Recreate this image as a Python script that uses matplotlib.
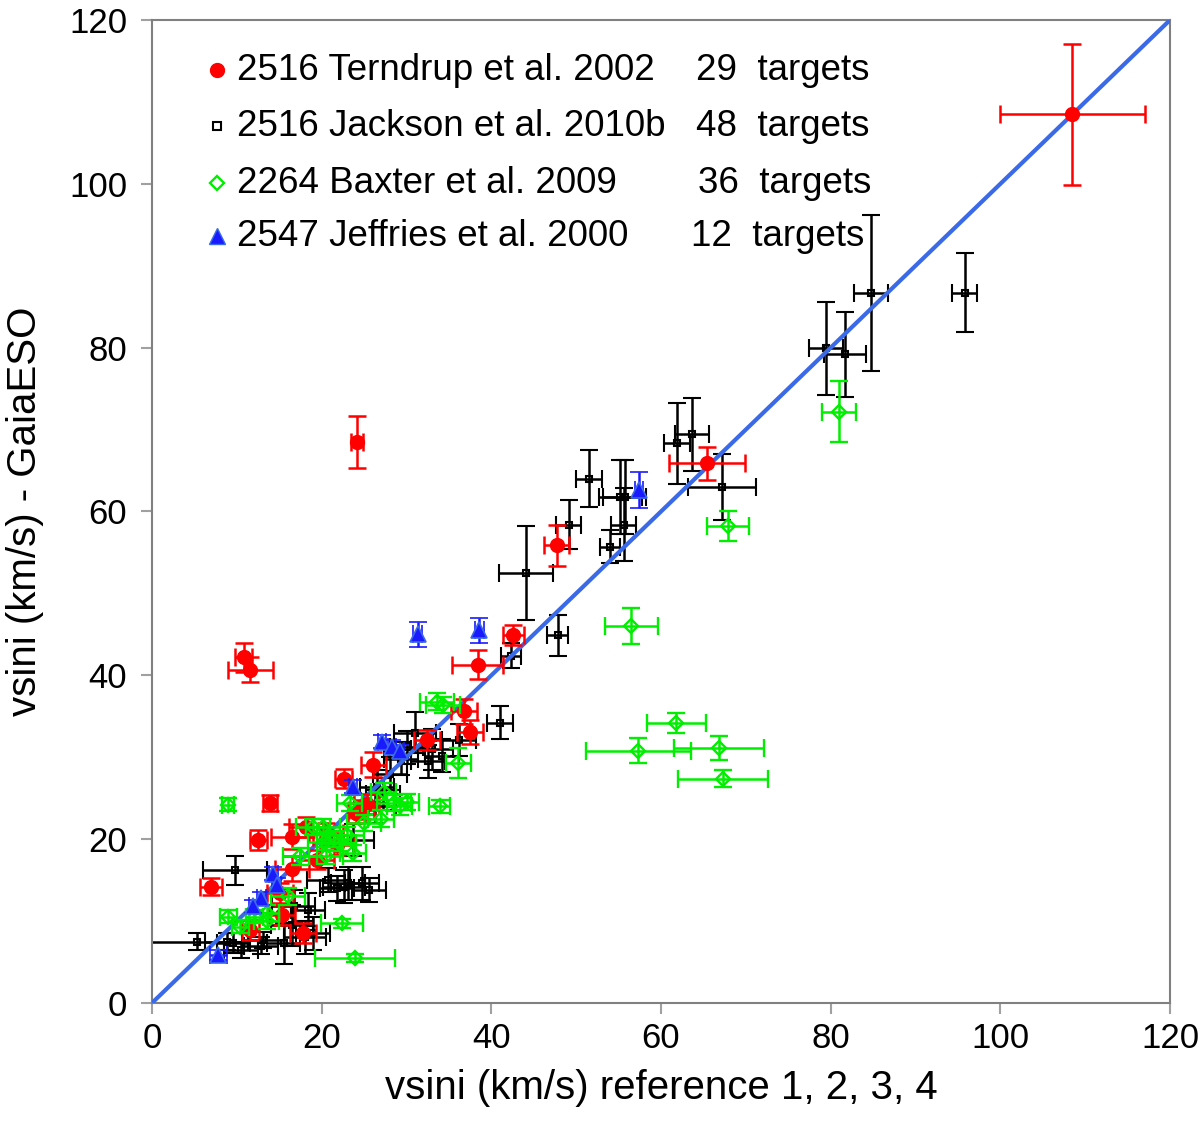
import matplotlib
matplotlib.use("Agg")
import matplotlib.pyplot as plt

plt.rcParams["font.family"] = ["Liberation Sans", "DejaVu Sans"]

# 2516 Terndrup et al. 2002 (29 targets)
terndrup_x = [108.5, 65.4, 24.2, 47.7, 42.6, 38.4, 36.8, 37.5, 32.4, 10.8, 11.6, 26.1, 22.6, 13.9, 12.5,
              16.5, 18.2, 24.7, 24.1, 19.4, 21.8, 7.0, 16.5, 15.1, 15.3, 11.6, 17.8, 20.5, 25.3]
terndrup_y = [108.5, 65.9, 68.5, 55.9, 44.9, 41.3, 35.6, 33.1, 32.1, 42.2, 40.7, 29.1, 27.4, 24.4, 19.9,
              20.3, 21.5, 23.6, 23.2, 17.5, 19.3, 14.2, 16.4, 13.4, 10.7, 8.9, 8.5, 20.8, 24.3]
terndrup_xerr = [8.5, 4.5, 0.7, 1.5, 1.2, 3.0, 1.5, 1.5, 1.5, 1.0, 2.7, 1.5, 1.0, 0.8, 1.0,
                 2.5, 2.0, 1.5, 1.0, 2.0, 2.0, 1.3, 2.0, 1.5, 1.5, 1.0, 1.5, 2.0, 1.5]
terndrup_yerr = [8.6, 2.0, 3.2, 2.5, 1.2, 1.8, 1.5, 1.5, 1.2, 1.8, 1.5, 1.5, 1.2, 1.0, 1.2,
                 1.5, 1.2, 1.2, 1.2, 1.2, 1.2, 1.0, 1.5, 1.2, 1.2, 1.2, 1.2, 1.2, 1.2]

# 2516 Jackson et al. 2010b (48 targets)
jackson_x = [84.8, 95.8, 79.4, 81.7, 67.2, 63.6, 61.9, 51.5, 49.1, 55.2, 55.7, 55.6, 54.0, 44.1, 47.8, 42.3,
             41.0, 36.2, 31.0, 26.5, 26.3, 23.7, 24.7, 23.1, 22.6, 20.8, 9.8, 16.7, 18.4, 5.3, 8.8, 9.6,
             13.1, 15.5, 16.5, 19.0, 28.0, 29.3, 33.0, 34.2, 32.5, 30.0, 27.2, 21.8, 25.6, 18.0, 12.8, 10.5]
jackson_y = [86.7, 86.7, 79.9, 79.2, 63.0, 69.4, 68.3, 64.0, 58.4, 61.8, 61.8, 58.4, 55.7, 52.5, 44.9, 42.4,
             34.2, 32.1, 33.0, 26.4, 24.0, 19.9, 14.6, 14.6, 14.2, 15.0, 16.2, 11.8, 11.4, 7.5, 7.5, 7.3,
             7.7, 7.3, 9.5, 8.5, 28.0, 29.8, 31.0, 30.2, 29.5, 31.2, 25.5, 14.0, 13.8, 8.0, 7.0, 6.5]
jackson_xerr = [2.0, 1.5, 2.0, 2.5, 4.0, 2.0, 1.5, 1.5, 1.5, 2.5, 2.5, 1.5, 1.2, 3.2, 1.2, 1.2,
                1.5, 2.0, 2.5, 2.0, 2.5, 2.5, 2.0, 2.0, 2.5, 2.5, 3.8, 2.5, 2.0, 6.0, 2.5, 2.0,
                2.5, 2.0, 2.5, 2.0, 2.0, 2.0, 2.5, 2.0, 2.0, 2.0, 2.0, 2.0, 2.0, 2.5, 2.0, 2.0]
jackson_yerr = [9.5, 4.8, 5.7, 5.2, 4.0, 4.5, 5.0, 3.5, 3.0, 4.5, 4.5, 4.5, 2.0, 5.7, 2.5, 1.5,
                2.0, 2.0, 2.5, 2.0, 2.0, 2.0, 2.0, 2.0, 2.0, 1.5, 1.8, 2.0, 2.0, 1.0, 1.0, 1.2,
                1.0, 2.5, 2.5, 2.0, 2.0, 2.0, 2.5, 2.0, 2.0, 2.0, 2.0, 1.5, 1.5, 2.0, 1.0, 1.0]

# 2264 Baxter et al. 2009 (36 targets)
baxter_x = [81.0, 67.9, 56.5, 61.8, 57.3, 66.8, 67.3, 23.9, 22.4, 9.0, 33.9, 36.1, 33.6, 34.3, 29.2, 10.4,
            12.1, 17.4, 20.2, 20.4, 22.0, 23.7, 25.0, 23.3, 27.3, 28.5, 19.0, 20.5, 13.5, 16.0, 21.5, 23.0,
            9.0, 13.5, 30.0, 27.0]
baxter_y = [72.2, 58.2, 46.0, 34.2, 30.8, 31.1, 27.4, 5.5, 9.7, 24.2, 24.0, 29.3, 36.8, 36.4, 24.0, 9.3,
            10.5, 17.9, 21.5, 19.7, 19.5, 18.3, 22.0, 24.4, 25.8, 24.4, 21.5, 18.0, 11.0, 13.0, 20.0, 20.5,
            10.5, 10.0, 24.5, 22.5]
baxter_xerr = [2.0, 2.5, 3.1, 3.5, 6.2, 5.3, 5.3, 4.7, 2.5, 0.7, 1.2, 1.5, 2.0, 2.0, 1.5, 1.0,
               1.0, 2.0, 2.0, 2.0, 2.0, 1.5, 2.0, 1.5, 1.5, 2.0, 2.0, 2.0, 1.5, 2.0, 2.0, 2.0,
               1.0, 1.5, 1.5, 1.5]
baxter_yerr = [3.7, 1.8, 2.2, 1.2, 1.5, 1.5, 1.0, 0.5, 0.6, 0.8, 0.8, 1.8, 1.0, 1.0, 1.0, 0.8,
               0.8, 1.0, 1.0, 1.0, 1.0, 1.0, 1.0, 1.0, 1.0, 1.0, 1.0, 1.0, 1.0, 1.0, 1.0, 1.0,
               0.8, 1.0, 1.0, 1.0]

# 2547 Jeffries et al. 2000 (12 targets)
jeffries_x = [57.4, 38.6, 31.3, 27.1, 28.3, 29.2, 23.7, 14.3, 14.7, 12.9, 11.9, 7.8]
jeffries_y = [62.6, 45.5, 45.0, 31.9, 31.3, 30.7, 26.4, 15.8, 14.4, 12.8, 11.8, 5.9]
jeffries_xerr = [0.5, 0.5, 0.5, 0.5, 0.5, 0.5, 0.5, 0.5, 0.5, 0.5, 0.5, 1.0]
jeffries_yerr = [2.2, 1.5, 1.5, 0.8, 0.8, 0.8, 0.8, 0.8, 0.8, 0.8, 0.8, 0.6]

legend_labels = ["2516 Terndrup et al. 2002", "2516 Jackson et al. 2010b",
                 "2264 Baxter et al. 2009", "2547 Jeffries et al. 2000"]
legend_counts = ["29", "48", "36", "12"]

RED = "#ff0000"
GREEN = "#00ee00"
BLUE = "#1a1aff"
LINE_BLUE = "#3a6ae8"

fig = plt.figure(figsize=(12, 11.44), dpi=100)
ax = fig.add_axes([0.1267, 0.1233, 0.8483, 0.8592])

eb = dict(linestyle="none", elinewidth=1.8, capsize=6.5, capthick=1.8)

ax.errorbar(jackson_x, jackson_y, xerr=jackson_xerr, yerr=jackson_yerr, marker="s", ms=5,
            mfc="none", mec="black", mew=1.5, ecolor="black", zorder=2, **eb)
ax.plot([0, 120], [0, 120], color=LINE_BLUE, lw=3, zorder=3, solid_capstyle="butt")
ax.errorbar(terndrup_x, terndrup_y, xerr=terndrup_xerr, yerr=terndrup_yerr, marker="o", ms=10,
            mfc=RED, mec=RED, ecolor=RED, zorder=4, **eb)
ax.errorbar(baxter_x, baxter_y, xerr=baxter_xerr, yerr=baxter_yerr, marker="D", ms=7,
            mfc="none", mec=GREEN, mew=1.7, ecolor=GREEN, zorder=5, **eb)
ax.errorbar(jeffries_x, jeffries_y, xerr=jeffries_xerr, yerr=jeffries_yerr, marker="^", ms=11,
            mfc=BLUE, mec=LINE_BLUE, mew=1.2, ecolor=BLUE, zorder=6, **eb)

ax.set_xlim(0, 120)
ax.set_ylim(0, 120)
ax.set_xticks(range(0, 121, 20))
ax.set_yticks(range(0, 121, 20))
ax.tick_params(direction="out", length=8, width=1.5, color="#a0a0a0", labelsize=25)
ax.tick_params(axis="y", pad=10)
ax.tick_params(axis="x", pad=6)
for sp in ax.spines.values():
    sp.set_color("#808080")
    sp.set_linewidth(1.5)

ax.set_xlabel("vsini (km/s) reference 1, 2, 3, 4", fontsize=29, labelpad=10)
ax.set_ylabel("vsini (km/s) - GaiaESO", fontsize=29, labelpad=18)

# legend drawn by hand so that the target counts line up in a column
styles = [dict(marker="o", ms=10, mfc=RED, mec=RED),
          dict(marker="s", ms=6, mfc="none", mec="black", mew=1.5),
          dict(marker="D", ms=7, mfc="none", mec=GREEN, mew=1.7),
          dict(marker="^", ms=11, mfc=BLUE, mec=LINE_BLUE, mew=1)]
rows = [0.949, 0.892, 0.834, 0.780]
count_x = [0.534, 0.534, 0.536, 0.5295]
for st, lab, cnt, ry, cx in zip(styles, legend_labels, legend_counts, rows, count_x):
    ax.plot([0.064], [ry], transform=ax.transAxes, linestyle="none", clip_on=False, zorder=7, **st)
    ax.text(0.083, ry, lab, transform=ax.transAxes, fontsize=26.5, va="center", ha="left")
    ax.text(cx, ry, cnt + "  targets", transform=ax.transAxes, fontsize=26.5, va="center", ha="left")

fig.savefig("out.png", dpi=100)
